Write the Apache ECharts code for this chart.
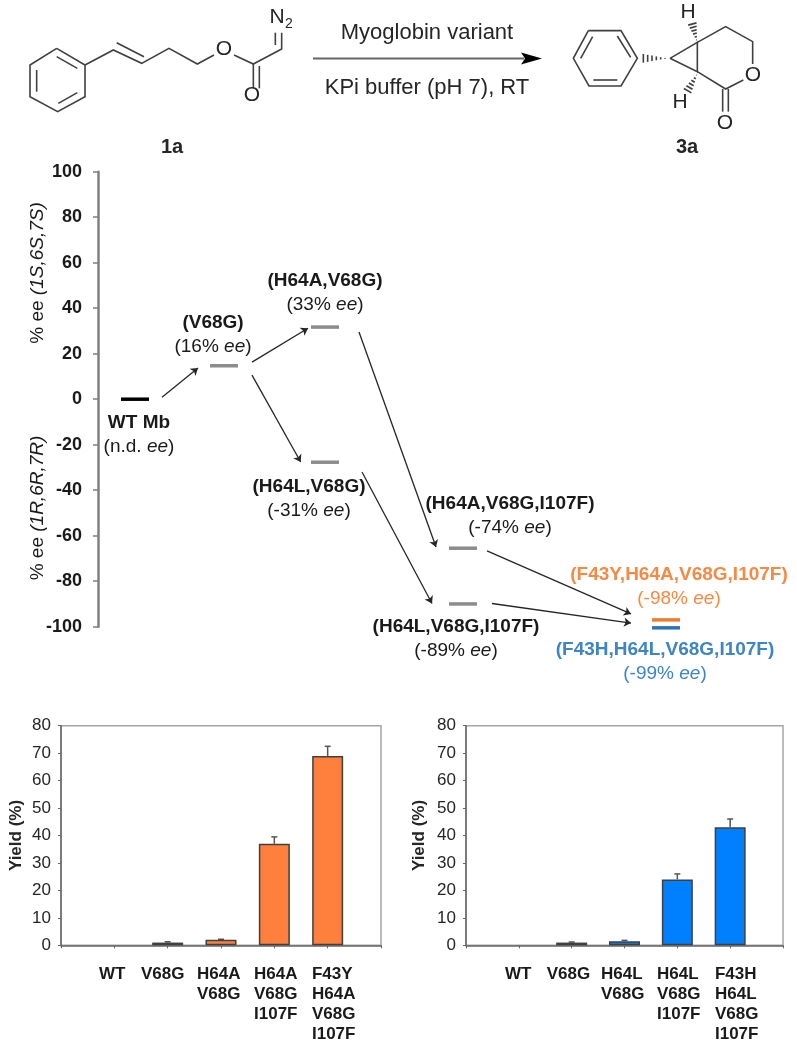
<!DOCTYPE html>
<html>

<head>
    <meta charset="utf-8">
    <title>Myoglobin variants</title>
    <script src="https://cdn.jsdelivr.net/npm/echarts@6/dist/echarts.min.js"></script>
    <style>
        html, body { margin: 0; padding: 0; background: #fff; }
    </style>
</head>

<body>
    <div id="main" style="width: 797px;height:1050px;"></div>
    <script type="text/javascript">
        // energy-level style diagram
        var levelNames = ['WT Mb', '(V68G)', '(H64A,V68G)', '(H64L,V68G)', '(H64A,V68G,I107F)', '(H64L,V68G,I107F)', '(F43Y,H64A,V68G,I107F)', '(F43H,H64L,V68G,I107F)'];
        var levelEeText = ['n.d.', '16%', '33%', '-31%', '-74%', '-89%', '-98%', '-99%'];
        var levelEe = [0, 14.7, 31.7, -27.7, -65.5, -90, -97, -100.5];
        var levelStage = [37, 126, 227, 227, 365, 365, 568, 568];
        var levelColors = ['#000000', '#8c8c8c', '#8c8c8c', '#8c8c8c', '#8c8c8c', '#8c8c8c', '#ed7d31', '#2e75b6'];
        var levelTextColors = ['#1a1a1a', '#1a1a1a', '#1a1a1a', '#1a1a1a', '#1a1a1a', '#1a1a1a', '#f58a45', '#3d85c6'];
        var levelLabelOffsets = [[4, 36], [-11, -31], [0, -34], [-16, 37], [47, -32], [-7, 35], [13, -33], [-1, 34]];
        var arrowStarts = [[64, 0.9], [154, 16.3], [154, 10.6], [261, 29.5], [264, -32], [389, -66.7], [394, -89.8]];
        var arrowEnds = [[100, 13.7], [210, 31.2], [202.7, -27.6], [338, -65], [334, -89.8], [533, -94.4], [533, -98.4]];

        // yield bars
        var orangeCategories = ['WT', 'V68G', 'H64A\nV68G', 'H64A\nV68G\nI107F', 'F43Y\nH64A\nV68G\nI107F'];
        var orangeYield = [0, 1, 2, 37, 69];
        var orangeErrorTop = [0, 1.3, 2.2, 39.5, 72.5];
        var blueCategories = ['WT', 'V68G', 'H64L\nV68G', 'H64L\nV68G\nI107F', 'F43H\nH64L\nV68G\nI107F'];
        var blueYield = [0, 1, 1.5, 24, 43];
        var blueErrorTop = [0, 1.2, 1.8, 26, 46];

        var font = '"Liberation Sans", Arial, sans-serif';

        function levelRich(color) {
            return {
                b: { fontFamily: font, fontSize: 19, fontWeight: 'bold', color: color, lineHeight: 24 },
                n: { fontFamily: font, fontSize: 19, color: color, lineHeight: 24 },
                i: { fontFamily: font, fontSize: 19, fontStyle: 'italic', color: color, lineHeight: 24 }
            };
        }

        var levelData = levelNames.map(function (name, i) {
            return {
                name: name,
                value: [levelStage[i], levelEe[i]],
                itemStyle: { color: levelColors[i], opacity: 1 },
                label: {
                    offset: levelLabelOffsets[i],
                    formatter: '{b|' + name + '}\n{n|(' + levelEeText[i] + ' }{i|ee}{n|)}',
                    rich: levelRich(levelTextColors[i])
                }
            };
        });

        var arrowData = arrowStarts.map(function (start, i) {
            return { coords: [start, arrowEnds[i]] };
        });

        // WT..I107F labels are left aligned blocks, box width decides where they sit under the tick
        function barLabelRich(widths) {
            var rich = {};
            widths.forEach(function (w, i) {
                rich['w' + i] = { width: w, align: 'left', fontFamily: font, fontSize: 17, fontWeight: 'bold', color: '#1a1a1a', lineHeight: 20 };
            });
            return rich;
        }

        function barLabelFormatter(categories) {
            return function (value) {
                var i = categories.indexOf(value);
                if (i < 0) return '';
                return value.split('\n').map(function (line) {
                    return '{w' + i + '|' + line + '}';
                }).join('\n');
            };
        }

        function barXAxis(gridIndex, categories, widths) {
            return {
                gridIndex: gridIndex,
                type: 'category',
                boundaryGap: false,
                data: [''].concat(categories, [' ']),
                axisLine: { lineStyle: { color: '#666666', width: 1.5 } },
                axisTick: { length: 3, lineStyle: { color: '#666666', width: 1 } },
                axisLabel: {
                    interval: 0,
                    margin: 19,
                    verticalAlign: 'top',
                    formatter: barLabelFormatter(categories),
                    rich: barLabelRich(widths)
                }
            };
        }

        function barYAxis(gridIndex, nameGap) {
            return {
                gridIndex: gridIndex,
                type: 'value',
                min: 0,
                max: 80,
                interval: 10,
                name: 'Yield (%)',
                nameLocation: 'middle',
                nameGap: nameGap,
                nameTextStyle: { fontFamily: font, fontSize: 17, fontWeight: 'bold', color: '#262626' },
                splitLine: { show: false },
                axisLine: { show: true, lineStyle: { color: '#666666', width: 1.5 } },
                axisTick: { show: true, length: 3, lineStyle: { color: '#666666', width: 1 } },
                axisLabel: { fontFamily: font, fontSize: 17, color: '#262626', margin: 10 }
            };
        }

        function barSeries(axisIndex, values, color) {
            return {
                type: 'bar',
                xAxisIndex: axisIndex,
                yAxisIndex: axisIndex,
                barWidth: 31,
                z: 3,
                // a zero bar leaves no outline on the axis
                data: [null].concat(values.map(function (v) {
                    return v === 0 ? { value: v, itemStyle: { borderWidth: 0 } } : v;
                }), [null]),
                itemStyle: { color: color, borderColor: '#404040', borderWidth: 1.5 }
            };
        }

        function errorSeries(axisIndex, values, tops) {
            return {
                type: 'custom',
                xAxisIndex: axisIndex,
                yAxisIndex: axisIndex,
                z: 2,
                data: values.map(function (v, i) {
                    return [i + 1, v, tops[i]];
                }).filter(function (d) {
                    return d[2] > d[1];
                }),
                encode: { x: 0, y: [1, 2] },
                renderItem: function (params, api) {
                    var base = api.coord([api.value(0), api.value(1)]);
                    var top = api.coord([api.value(0), api.value(2)]);
                    var style = { stroke: '#555555', lineWidth: 1.5, fill: null };
                    return {
                        type: 'group',
                        children: [
                            { type: 'line', shape: { x1: base[0], y1: base[1], x2: top[0], y2: top[1] }, style: style },
                            { type: 'line', shape: { x1: top[0] - 3, y1: top[1], x2: top[0] + 3, y2: top[1] }, style: style }
                        ]
                    };
                }
            };
        }

        // reaction scheme, drawn as plain shapes in page pixels
        var scheme = [];

        function bonds(ox, oy, paths) {
            paths.forEach(function (p) {
                var pts = [];
                for (var i = 0; i < p.length; i += 2) {
                    pts.push([ox + p[i] / 3, oy + p[i + 1] / 3]);
                }
                scheme.push({ type: 'polyline', shape: { points: pts }, style: { stroke: '#404040', lineWidth: 1.6, fill: null } });
            });
        }

        function hash(ox, x1, y1, x2, y2, n) {
            var dx = x2 - x1, dy = y2 - y1, len = Math.sqrt(dx * dx + dy * dy);
            for (var i = 0; i < n; i++) {
                var t = i / (n - 1), cx = x1 + dx * t, cy = y1 + dy * t, w = 1 + t * 12;
                bonds(ox, 0, [[cx - dy / len * w, cy + dx / len * w, cx + dy / len * w, cy - dx / len * w]]);
            }
        }

        function schemeText(x, y, text, size, bold) {
            scheme.push({
                type: 'text',
                x: x,
                y: y,
                style: {
                    text: text,
                    fontFamily: font,
                    fontSize: size,
                    fontWeight: bold ? 'bold' : 'normal',
                    fill: '#262626',
                    align: 'center',
                    verticalAlign: 'middle'
                }
            });
        }

        // 1a
        bonds(20, 0, [
            [110, 145, 195, 195, 195, 290, 113, 335, 30, 290, 30, 195, 110, 145],
            [50, 210, 50, 275],
            [110, 170, 172, 205],
            [115, 310, 172, 278],
            [195, 195, 280, 150, 365, 190, 447, 145, 532, 192, 582, 165],
            [290, 128, 372, 170],
            [642, 165, 700, 192, 785, 147, 785, 98],
            [766, 135, 766, 98],
            [700, 192, 700, 265],
            [718, 198, 718, 265]
        ]);
        schemeText(224, 49, 'O', 21);
        schemeText(252, 95, 'O', 21);
        schemeText(277, 17, 'N', 21);
        schemeText(289, 24, '2', 14);
        schemeText(172, 147, '1a', 20, true);

        // arrow
        scheme.push({ type: 'line', shape: { x1: 313, y1: 58.5, x2: 524, y2: 58.5 }, style: { stroke: '#666666', lineWidth: 2 } });
        scheme.push({ type: 'polygon', shape: { points: [[521, 52.5], [542, 58.5], [521, 64.5], [525, 58.5]] }, style: { fill: '#000000' } });
        schemeText(427, 33, 'Myoglobin variant', 22);
        schemeText(427, 88, 'KPi buffer (pH 7), RT', 22);

        // 3a
        bonds(560, 0, [
            [85, 92, 183, 92, 232, 175, 183, 258, 87, 258, 40, 175, 85, 92],
            [62, 175, 98, 110],
            [172, 108, 212, 172],
            [100, 240, 172, 240],
            [330, 175, 412, 127, 412, 215, 330, 175],
            [412, 127, 497, 80, 578, 125, 578, 192],
            [550, 240, 497, 267, 412, 215],
            [488, 267, 488, 335],
            [505, 267, 505, 335]
        ]);
        hash(560, 315, 175, 250, 175, 6);
        hash(560, 410, 120, 397, 72, 6);
        hash(560, 410, 225, 383, 272, 6);
        schemeText(688, 12, 'H', 21);
        schemeText(680, 102, 'H', 21);
        schemeText(753, 75, 'O', 21);
        schemeText(725, 123, 'O', 21);
        schemeText(687, 147, '3a', 20, true);

        // rotated titles of the ee axis
        function eeTitle(y, sense) {
            scheme.push({
                type: 'text',
                x: 38,
                y: y,
                rotation: Math.PI / 2,
                style: {
                    text: '{a|% ee }{b|(' + sense + ')}',
                    align: 'center',
                    verticalAlign: 'middle',
                    rich: {
                        a: { fontFamily: font, fontSize: 19, fill: '#1a1a1a' },
                        b: { fontFamily: font, fontSize: 19, fontStyle: 'italic', fill: '#1a1a1a' }
                    }
                }
            });
        }
        eeTitle(273, '1S,6S,7S');
        eeTitle(508, '1R,6R,7R');

        var myChart = echarts.init(document.getElementById('main'));

        var option = {
            animation: false,
            backgroundColor: '#ffffff',
            graphic: { elements: scheme },
            grid: [
                { left: 98, top: 171.7, width: 600, height: 455 },
                { left: 61, top: 725.7, width: 320, height: 219.6, show: true, borderColor: '#a6a6a6', borderWidth: 1.5 },
                { left: 466, top: 725.7, width: 317, height: 219.6, show: true, borderColor: '#a6a6a6', borderWidth: 1.5 }
            ],
            xAxis: [
                { gridIndex: 0, type: 'value', min: 0, max: 600, show: false },
                barXAxis(1, orangeCategories, [30.6, 53.4, 48, 40.6, 31.4]),
                barXAxis(2, blueCategories, [27.6, 50, 47, 40.6, 30.4])
            ],
            yAxis: [
                {
                    gridIndex: 0,
                    type: 'value',
                    min: -100,
                    max: 100,
                    interval: 20,
                    splitLine: { show: false },
                    axisLine: { show: true, lineStyle: { color: '#808080', width: 2.5 } },
                    axisTick: { show: true, length: 5, lineStyle: { color: '#808080', width: 1.5 } },
                    axisLabel: { fontFamily: font, fontSize: 18, fontWeight: 'bold', color: '#1a1a1a', margin: 16 }
                },
                barYAxis(1, 36),
                barYAxis(2, 38)
            ],
            series: [
                {
                    type: 'lines',
                    coordinateSystem: 'cartesian2d',
                    xAxisIndex: 0,
                    yAxisIndex: 0,
                    symbol: ['none', 'arrow'],
                    symbolSize: 7,
                    lineStyle: { color: '#262626', width: 1.3, opacity: 1 },
                    data: arrowData
                },
                {
                    type: 'scatter',
                    xAxisIndex: 0,
                    yAxisIndex: 0,
                    clip: false,
                    symbol: 'rect',
                    symbolSize: [28, 3.5],
                    data: levelData,
                    label: { show: true, position: 'inside', align: 'center', verticalAlign: 'middle' }
                },
                barSeries(1, orangeYield, '#ff7f3c'),
                errorSeries(1, orangeYield, orangeErrorTop),
                barSeries(2, blueYield, '#0080ff'),
                errorSeries(2, blueYield, blueErrorTop)
            ]
        };

        myChart.setOption(option);
    </script>
</body>

</html>
